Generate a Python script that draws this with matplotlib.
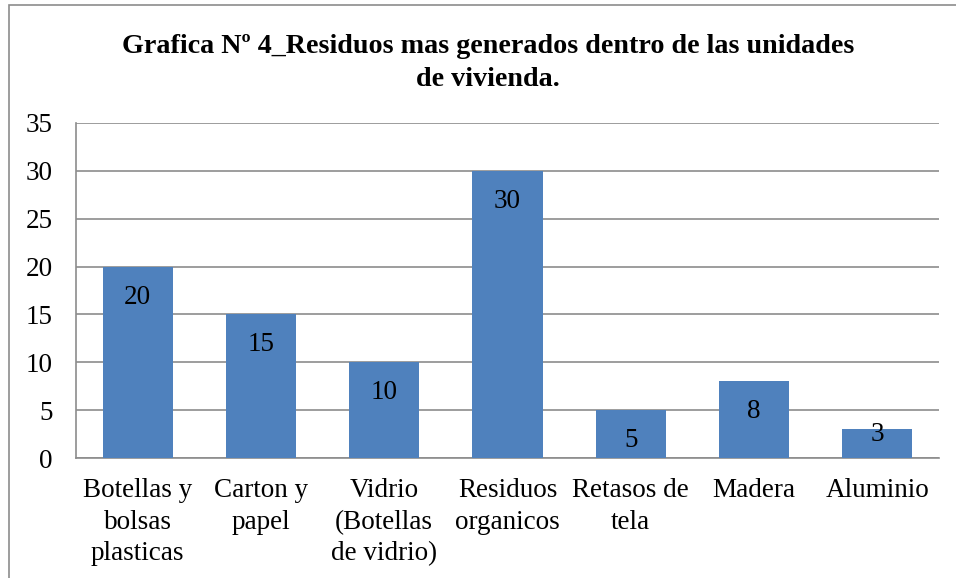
import matplotlib.pyplot as plt
from matplotlib.patches import Rectangle

categorias = ['Botellas y\nbolsas\nplasticas', 'Carton y\npapel', 'Vidrio\n(Botellas\nde vidrio)',
              'Residuos\norganicos', 'Retasos de\ntela', 'Madera', 'Aluminio']
valores = [20, 15, 10, 30, 5, 8, 3]
titulo = 'Grafica Nº 4_Residuos mas generados dentro de las unidades\nde vivienda.'

plt.rcParams['font.family'] = ['Liberation Serif', 'DejaVu Serif']

fig = plt.figure(figsize=(9.56, 5.78), dpi=100)
ax = fig.add_axes([76/956, 1 - 458/578, (939 - 76)/956, (458 - 123)/578])

# marco del grafico
fig.patches.append(Rectangle((9/956, -0.5), 2, 1.5 - 5/578, transform=fig.transFigure,
                             fill=False, edgecolor='#8c8c8c', linewidth=1.2))

x = range(len(categorias))
barras = ax.bar(x, valores, width=0.57, color='#4F81BD', zorder=3)

for b, v in zip(barras, valores):
    off = -13 if v >= 5 else 5
    ax.annotate(str(v), (b.get_x() + b.get_width()/2, v), xytext=(0, off),
                textcoords='offset points', ha='center', va='top', fontsize=19.5, zorder=4)

ax.set_xlim(-0.5, len(categorias) - 0.5)
ax.set_ylim(0, 35)
ax.set_yticks(range(0, 36, 5))
ax.set_xticks(list(x))
ax.set_xticklabels(categorias, fontsize=19.5, linespacing=1.35)
ax.tick_params(axis='y', labelsize=19.5, length=0, pad=17)
ax.tick_params(axis='x', length=0, pad=14.5)
ax.grid(axis='y', color='#8c8c8c', linewidth=1.2, zorder=0)
for s in ['top', 'right']:
    ax.spines[s].set_visible(False)
for s in ['left', 'bottom']:
    ax.spines[s].set_color('#8c8c8c')
    ax.spines[s].set_linewidth(1.2)

fig.text(488/956, 1 - 34/578, titulo, ha='center', va='top', fontsize=20.25,
         fontweight='bold', linespacing=1.4)

plt.savefig('out.png')
plt.close()
